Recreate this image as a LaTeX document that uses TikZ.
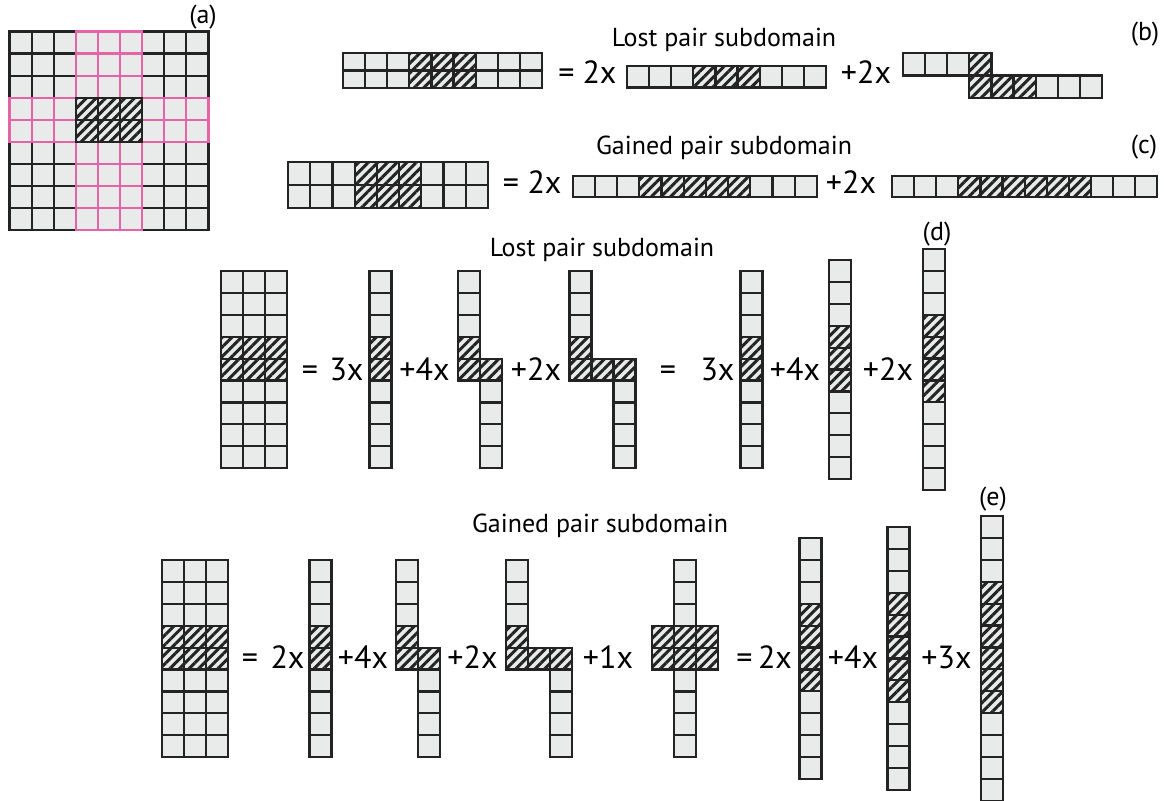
\documentclass[tikz,border=0pt]{standalone}
\usepackage{fontspec}
\setmainfont{PT Sans}
\usetikzlibrary{patterns.meta}
\definecolor{cellGray}{RGB}{233,235,235}
\definecolor{gridPink}{RGB}{228,100,168}
\definecolor{lineDark}{RGB}{35,35,35}

% a row / a column of cells, cells #4..#5 hatched
\newcommand{\cellrow}[5]{%
  \foreach \k in {1,...,#3} {%
    \pgfmathtruncatemacro{\hflag}{and(\k>=#4,\k<=#5)}%
    \ifnum\hflag=1
      \draw[hatchbox] ({#1+(\k-1)*\cellW},{#2}) rectangle ++(\cellW,\cellH);
    \else
      \draw[cellbox] ({#1+(\k-1)*\cellW},{#2}) rectangle ++(\cellW,\cellH);
    \fi
  }}
\newcommand{\cellcol}[5]{%
  \foreach \k in {1,...,#3} {%
    \pgfmathtruncatemacro{\hflag}{and(\k>=#4,\k<=#5)}%
    \ifnum\hflag=1
      \draw[hatchbox] ({#1},{#2+(\k-1)*\cellH}) rectangle ++(\cellW,\cellH);
    \else
      \draw[cellbox] ({#1},{#2+(\k-1)*\cellH}) rectangle ++(\cellW,\cellH);
    \fi
  }}

\begin{document}
\begin{tikzpicture}[x=0.5pt,y=-0.5pt,
    cellbox/.style={draw=lineDark,line width=1.1pt,fill=cellGray},
    pinkbox/.style={draw=gridPink,line width=1.1pt,fill=cellGray},
    hatchbox/.style={cellbox,
      postaction={pattern={Lines[angle=45,distance=3.4pt,line width=1.5pt]},
                  pattern color=lineDark}},
    txt/.style={font=\fontsize{13}{15}\selectfont,inner sep=0pt,anchor=base},
    eqn/.style={font=\fontsize{16}{19}\selectfont,inner sep=0pt,anchor=base}]

    \useasboundingbox (0,0) rectangle (1168,800);

    % (a) full lattice
    \def\cellW{22.1}\def\cellH{22.05}
    \foreach \j in {0,...,8} {\cellrow{9.5}{31.5+\j*\cellH}{9}{99}{0}}
    \foreach \j in {0,...,8} {
      \foreach \i in {3,4,5} {
        \draw[pinkbox] ({9.5+\i*\cellW},{31.5+\j*\cellH}) rectangle ++(\cellW,\cellH);
      }
    }
    \foreach \j in {3,4} {
      \foreach \i in {0,...,8} {
        \draw[pinkbox] ({9.5+\i*\cellW},{31.5+\j*\cellH}) rectangle ++(\cellW,\cellH);
      }
    }
    \foreach \j in {3,4} {\cellrow{9.5+3*\cellW}{31.5+\j*\cellH}{3}{1}{3}}
    \node[txt] (lbla) at (203,23) {(a)};

    % (b) lost pair, horizontal
    \def\cellW{22.1}\def\cellH{17.8}
    \foreach \j in {0,1} {\cellrow{343}{52.7+\j*\cellH}{9}{4}{6}}
    \node[eqn] (eqb) at (566.5,83) {=};
    \node[eqn] (cfb1) at (599.5,83) {2x};
    \def\cellH{21.5}
    \cellrow{627}{66}{9}{4}{6}
    \node[eqn] (cfb2) at (866,83) {+2x};
    \def\cellH{22.5}
    \cellrow{903}{53}{4}{4}{4}
    \cellrow{969.3}{75.5}{6}{1}{3}
    \node[txt] (ttlb) at (724,46) {Lost pair subdomain};
    \node[txt] (lblb) at (1145,40) {(b)};

    % (c) gained pair, horizontal
    \def\cellW{22.2}\def\cellH{23}
    \foreach \j in {0,1} {\cellrow{288}{162+\j*\cellH}{9}{4}{6}}
    \node[eqn] (eqc) at (511,193) {=};
    \node[eqn] (cfc1) at (544.5,193) {2x};
    \def\cellH{21}
    \cellrow{572.7}{176}{11}{4}{8}
    \node[eqn] (cfc2) at (851,193) {+2x};
    \def\cellW{22.1}
    \cellrow{892}{176}{12}{4}{9}
    \node[txt] (ttlc) at (724,154) {Gained pair subdomain};
    \node[txt] (lblc) at (1144,153) {(c)};

    % (d) lost pair, vertical
    \def\cellW{22}\def\cellH{21.9}
    \foreach \i in {0,1,2} {\cellcol{221+\i*\cellW}{271}{9}{4}{5}}
    \node[eqn] (eqd1) at (310,380) {=};
    \node[eqn] (cfd1) at (346.5,380) {3x};
    \cellcol{369.5}{271}{9}{4}{5}
    \node[eqn] (cfd2) at (424.5,380) {+4x};
    \cellcol{458}{271}{5}{4}{5}
    \cellcol{480}{358.6}{5}{1}{1}
    \node[eqn] (cfd3) at (536,380) {+2x};
    \cellcol{569.5}{271}{5}{4}{5}
    \cellrow{591.5}{358.6}{1}{1}{1}
    \cellcol{613.5}{358.6}{5}{1}{1}
    \node[eqn] (eqd2) at (668,380) {=};
    \node[eqn] (cfd4) at (717.5,380) {3x};
    \cellcol{740.5}{271}{9}{4}{5}
    \node[eqn] (cfd5) at (795,380) {+4x};
    \cellcol{829}{260}{10}{4}{6}
    \node[eqn] (cfd6) at (888,380) {+2x};
    \cellcol{923}{249}{11}{4}{7}
    \node[txt] (ttld) at (602,256) {Lost pair subdomain};
    \node[txt] (lbld) at (937,240) {(d)};

    % (e) gained pair, vertical
    \foreach \i in {0,1,2} {\cellcol{162+\i*\cellW}{560}{9}{4}{5}}
    \node[eqn] (eqe1) at (250,668) {=};
    \node[eqn] (cfe1) at (287.5,668) {2x};
    \cellcol{309.5}{560}{9}{4}{5}
    \node[eqn] (cfe2) at (363,668) {+4x};
    \cellcol{396}{560}{5}{4}{5}
    \cellcol{418}{647.6}{5}{1}{1}
    \node[eqn] (cfe3) at (472.5,668) {+2x};
    \cellcol{506}{560}{5}{4}{5}
    \cellrow{528}{647.6}{1}{1}{1}
    \cellcol{550}{647.6}{5}{1}{1}
    \node[eqn] (cfe4) at (608,668) {+1x};
    \cellcol{674}{560}{9}{4}{5}
    \foreach \i in {652,696} {\cellcol{\i}{625.7}{2}{1}{2}}
    \node[eqn] (eqe2) at (744.5,668) {=};
    \node[eqn] (cfe5) at (775,668) {2x};
    \cellcol{799.5}{538}{11}{4}{7}
    \node[eqn] (cfe6) at (853,668) {+4x};
    \cellcol{887.5}{527}{12}{4}{8}
    \node[eqn] (cfe7) at (946.5,668) {+3x};
    \cellcol{981}{516}{13}{4}{9}
    \node[txt] (ttle) at (600,532) {Gained pair subdomain};
    \node[txt] (lble) at (993,505) {(e)};
  \end{tikzpicture}
\end{document}
